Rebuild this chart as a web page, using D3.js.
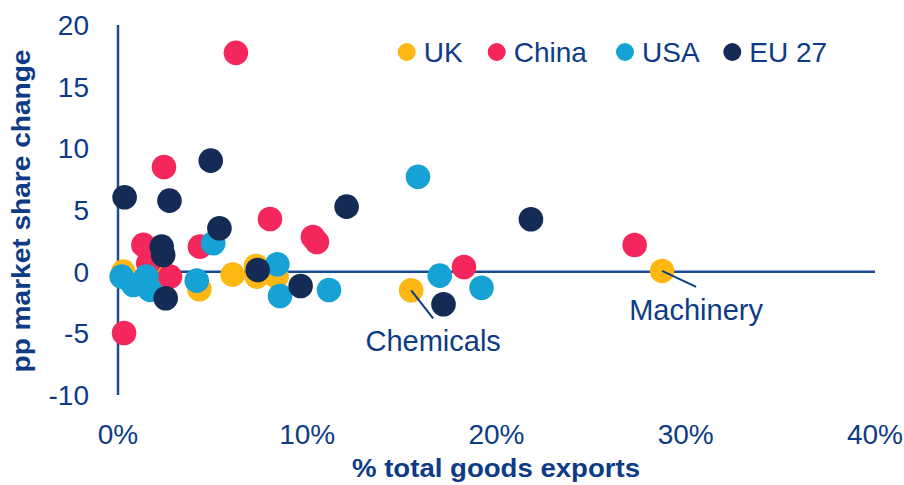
<!DOCTYPE html>
<html>
<head>
<meta charset="utf-8">
<script src="https://cdn.jsdelivr.net/npm/d3@7"></script>
<style>
  body { margin: 0; background: #fff; }
  svg { display: block; font-family: "Liberation Sans", Arial, sans-serif; }
</style>
</head>
<body>
<div id="chart"></div>
<script>
// [% of total goods exports, pp market share change]
const ukPoints = [[0.28, 0.0], [2.2, -0.6], [4.3, -1.43], [6.06, -0.24], [7.29, 0.46], [7.33, -0.4], [8.38, -0.4], [15.49, -1.51], [28.75, 0.06]];
const chinaPoints = [[6.23, 17.74], [2.43, 8.49], [0.32, -4.97], [8.03, 4.27], [10.3, 2.81], [10.51, 2.41], [18.28, 0.38], [27.3, 2.16], [1.34, 2.17], [4.33, 2.03], [1.6, 0.68], [2.75, -0.4]];
const usaPoints = [[15.85, 7.7], [17.0, -0.32], [19.21, -1.3], [11.15, -1.49], [8.42, 0.6], [8.56, -1.97], [4.16, -0.73], [5.03, 2.3], [0.19, -0.4], [0.81, -1.08], [1.5, -0.4], [1.69, -1.48]];
const euPoints = [[4.9, 9.0], [0.35, 6.03], [2.72, 5.76], [5.36, 3.52], [12.08, 5.27], [21.82, 4.25], [9.65, -1.16], [17.2, -2.64], [2.31, 2.03], [2.39, 1.35], [7.38, 0.14], [2.52, -2.16]];

const seriesNames = ["UK", "China", "USA", "EU 27"];
const xTicks = [0, 10, 20, 30, 40];
const yTicks = [20, 15, 10, 5, 0, -5, -10];
const annotations = [
  { label: "Chemicals", point: [15.49, -1.51] },
  { label: "Machinery", point: [28.75, 0.06] }
];

const colors = ["#fcb712", "#f4275c", "#16a2d4", "#132b55"];
const ink = "#0d3b86";
const width = 904, height = 485;

const svg = d3.select("#chart").append("svg")
  .attr("width", width)
  .attr("height", height);

const x = d3.scaleLinear().domain([0, 40]).range([118, 875]);
const y = d3.scaleLinear().domain([-10, 20]).range([395, 25]);

// axis lines
svg.append("line")
  .attr("x1", x(0)).attr("x2", x(0))
  .attr("y1", y(20)).attr("y2", y(-10))
  .attr("stroke", "#1a4b95").attr("stroke-width", 2.5);
svg.append("line")
  .attr("x1", x(0)).attr("x2", x(40))
  .attr("y1", y(0)).attr("y2", y(0))
  .attr("stroke", "#1a4b95").attr("stroke-width", 2.5);

// tick labels
svg.append("g").selectAll("text")
  .data(xTicks)
  .join("text")
  .attr("x", d => x(d))
  .attr("y", 444)
  .attr("text-anchor", "middle")
  .attr("font-size", 28)
  .attr("fill", ink)
  .text(d => d + "%");

svg.append("g").selectAll("text")
  .data(yTicks)
  .join("text")
  .attr("x", 89)
  .attr("y", d => y(d) + 10)
  .attr("text-anchor", "end")
  .attr("font-size", 28)
  .attr("fill", ink)
  .text(d => d);

// axis titles
svg.append("text")
  .attr("x", 496).attr("y", 477)
  .attr("text-anchor", "middle")
  .attr("font-size", 26).attr("font-weight", "bold")
  .attr("fill", ink)
  .attr("textLength", 288).attr("lengthAdjust", "spacingAndGlyphs")
  .text("% total goods exports");

svg.append("text")
  .attr("transform", "translate(30,211) rotate(-90)")
  .attr("text-anchor", "middle")
  .attr("font-size", 26).attr("font-weight", "bold")
  .attr("fill", ink)
  .attr("textLength", 323).attr("lengthAdjust", "spacingAndGlyphs")
  .text("pp market share change");

// points
const allSeries = [ukPoints, chinaPoints, usaPoints, euPoints];
allSeries.forEach((pts, i) => {
  svg.append("g").selectAll("circle")
    .data(pts)
    .join("circle")
    .attr("cx", d => x(d[0]))
    .attr("cy", d => y(d[1]))
    .attr("r", 12.3)
    .attr("fill", colors[i]);
});

// annotations: leader line end offset, then label baseline offset
const annOffsets = [[22, 28, 61], [34, 16, 49]];
annotations.forEach((a, i) => {
  const px = x(a.point[0]), py = y(a.point[1]);
  const o = annOffsets[i];
  svg.append("line")
    .attr("x1", px).attr("y1", py)
    .attr("x2", px + o[0]).attr("y2", py + o[1])
    .attr("stroke", "#0d3b86").attr("stroke-width", 2);
  svg.append("text")
    .attr("x", px + o[0])
    .attr("y", py + o[2])
    .attr("text-anchor", "middle")
    .attr("font-size", 29)
    .attr("fill", ink)
    .text(a.label);
});

// legend
const legendX = [406.7, 496.7, 625, 732.3];
const legend = svg.append("g").selectAll("g")
  .data(seriesNames)
  .join("g")
  .attr("transform", (d, i) => `translate(${legendX[i]},52)`);
legend.append("circle")
  .attr("r", 9)
  .attr("fill", (d, i) => colors[i]);
legend.append("text")
  .attr("x", 17)
  .attr("y", 10)
  .attr("font-size", 28)
  .attr("fill", ink)
  .text(d => d);
</script>
</body>
</html>
